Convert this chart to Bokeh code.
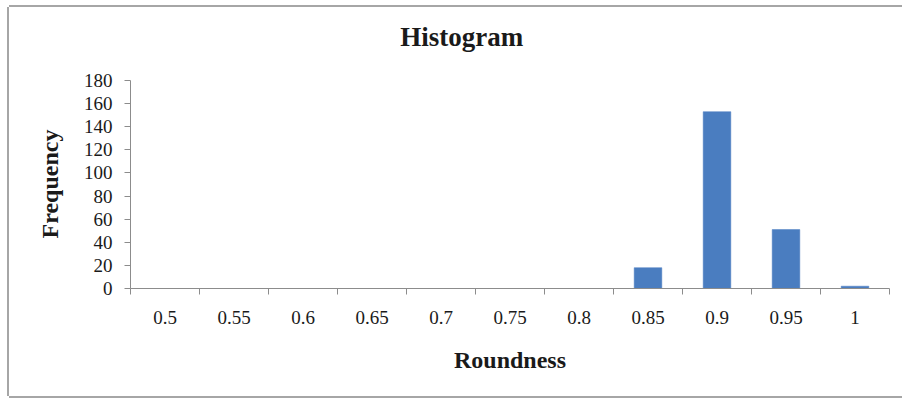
from bokeh.plotting import figure
from bokeh.models import FixedTicker, Range1d, ColumnDataSource, Label, Title
from bokeh.embed import file_html
from bokeh.resources import INLINE

# Data
categories = ["0.5", "0.55", "0.6", "0.65", "0.7", "0.75", "0.8", "0.85", "0.9", "0.95", "1"]
counts = [0, 0, 0, 0, 0, 0, 0, 18, 153, 51, 2]
y_ticks = [0, 20, 40, 60, 80, 100, 120, 140, 160, 180]
title_text = "Histogram"
x_title = "Roundness"
y_title = "Frequency"

centers = [i + 0.5 for i in range(len(categories))]
bounds = list(range(len(categories) + 1))

SERIF = "Liberation Serif"
AXIS_GRAY = "#8c8c8c"
TEXT = "#1a1a1a"

# frame spans canvas y 5..281; the value axis (0..180) covers 73..281,
# the space above holds the chart title
y_axis_max = y_ticks[-1]
y_end = y_axis_max * (281 - 5) / (281 - 73)

p = figure(
    width=893, height=389,
    x_range=Range1d(0, len(categories)), y_range=Range1d(0, y_end),
    output_backend="svg", toolbar_location=None,
    min_border_left=121, min_border_right=13,
    min_border_top=5, min_border_bottom=108,
)

src = ColumnDataSource(dict(x=centers, top=counts, cat=categories))
p.vbar(x="x", top="top", width=0.4, bottom=0, source=src,
       fill_color="#4a7dc0", line_color="#4a7dc0", line_width=0.5)

# Chart title
p.add_layout(Label(x=4.8, y=218, text=title_text, text_align="center",
                   text_baseline="middle", text_font=SERIF, text_font_size="27px",
                   text_font_style="bold", text_color=TEXT))

# Frame / grid
p.outline_line_color = None
p.xgrid.grid_line_color = None
p.ygrid.grid_line_color = None
p.background_fill_color = "white"
p.border_fill_color = "white"

# X axis: labels at category centres, ticks at category boundaries
xa = p.xaxis[0]
xa.ticker = FixedTicker(ticks=centers, minor_ticks=bounds)
xa.major_label_overrides = {c: lab for c, lab in zip(centers, categories)}
xa.major_tick_out = 0
xa.major_tick_in = 0
xa.minor_tick_out = 6
xa.minor_tick_in = 0
xa.minor_tick_line_color = AXIS_GRAY
xa.axis_line_color = AXIS_GRAY
xa.major_label_text_font = SERIF
xa.major_label_text_font_size = "19px"
xa.major_label_text_color = TEXT
xa.major_label_standoff = 16
xa.axis_label = x_title
xa.axis_label_text_font = SERIF
xa.axis_label_text_font_size = "24px"
xa.axis_label_text_font_style = "bold"
xa.axis_label_text_color = TEXT
xa.axis_label_standoff = 20

# Y axis
ya = p.yaxis[0]
ya.ticker = FixedTicker(ticks=y_ticks)
ya.bounds = (0, y_axis_max)
ya.major_tick_out = 6
ya.major_tick_in = 0
ya.minor_tick_line_color = None
ya.major_tick_line_color = AXIS_GRAY
ya.axis_line_color = AXIS_GRAY
ya.major_label_text_font = SERIF
ya.major_label_text_font_size = "19px"
ya.major_label_text_color = TEXT
ya.major_label_standoff = 12

# Y axis title, centred on the value axis (not on the taller frame)
p.add_layout(Title(text=y_title, align="left", offset=50, standoff=36,
                   text_font=SERIF, text_font_size="24px",
                   text_font_style="bold", text_color=TEXT), "left")

p.styles = {
    "margin-left": "9px",
    "margin-top": "7px",
    "box-shadow": "-2px 0 0 0 #a6a6a6, 0 -2px 0 0 #a6a6a6, 0 2px 0 0 #a6a6a6",
}

open("out.html", "w").write(file_html(p, INLINE))
